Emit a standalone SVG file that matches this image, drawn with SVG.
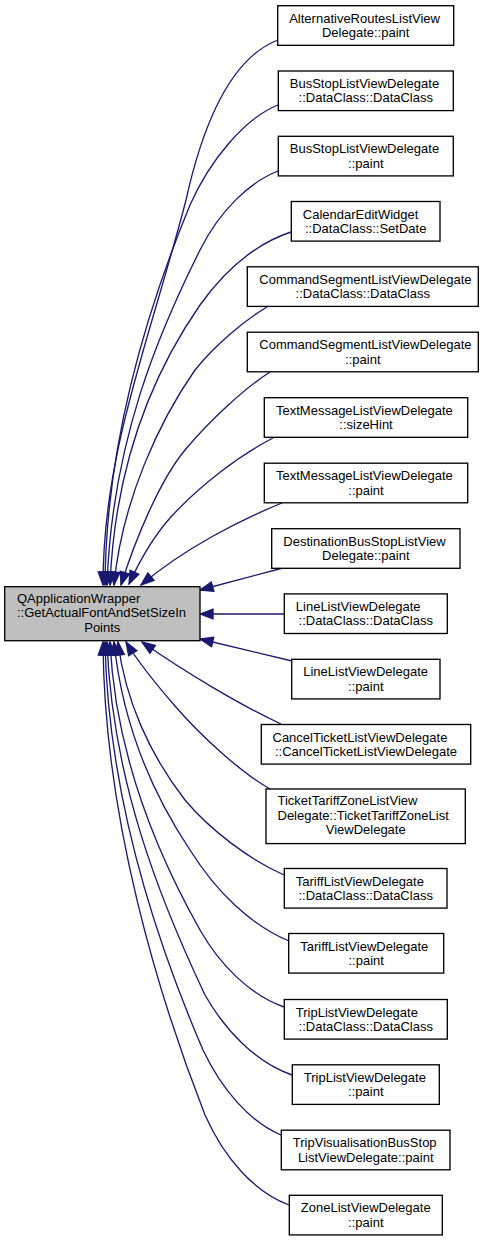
<svg xmlns="http://www.w3.org/2000/svg" width="489" height="1241" viewBox="0 0 489 1241">
<style>
.node rect{fill:#ffffff;stroke:#000000;stroke-width:1.33}
.node.main rect{fill:#bfbfbf}
text{font-family:"Liberation Sans",Arial,Helvetica,sans-serif;font-size:13px;fill:#000000}
.m{text-anchor:middle}
.edge path{fill:none;stroke:#191970;stroke-width:1.33}
</style>
<defs>
<marker id="ah" markerUnits="userSpaceOnUse" viewBox="-1 -6 15 12" refX="13" refY="0" markerWidth="15" markerHeight="12" orient="auto">
<path d="M0,-4.8 L13,0 L0,4.8 Z" fill="#191970" stroke="#191970" stroke-width="1.33"/>
</marker>
</defs>
<rect x="0" y="0" width="489" height="1241" fill="#ffffff"/>
<g id="edges" class="edge">
<path marker-end="url(#ah)" d="M278,40 C236,56 206,110 186,200 C150,340 103,450 103,585"/>
<path marker-end="url(#ah)" d="M278,105 C245,118 210,160 190,205 C155,290 106,430 105,585"/>
<path marker-end="url(#ah)" d="M278,171 C250,182 220,210 200,250 C160,330 112,440 107,585"/>
<path marker-end="url(#ah)" d="M291,232 C255,244 225,270 200,305 C155,370 115,460 110,585"/>
<path marker-end="url(#ah)" d="M267,307 C245,320 215,345 195,370 C160,420 122,500 114,585"/>
<path marker-end="url(#ah)" d="M270,372 C245,388 210,420 185,450 C160,480 135,540 121,585"/>
<path marker-end="url(#ah)" d="M273,438 C240,455 200,485 170,518 C155,535 140,560 129,584"/>
<path marker-end="url(#ah)" d="M282,503 C240,520 185,548 141,585"/>
<path marker-end="url(#ah)" d="M283,568 L200,590"/>
<path marker-end="url(#ah)" d="M284,614 L200,614"/>
<path marker-end="url(#ah)" d="M292,661 L200,639"/>
<path marker-end="url(#ah)" d="M281,724 C240,705 185,672 142,642"/>
<path marker-end="url(#ah)" d="M270,789 C240,772 200,735 175,706 C155,683 140,665 126,642"/>
<path marker-end="url(#ah)" d="M284,875 C250,860 210,830 185,800 C150,755 125,700 118,642"/>
<path marker-end="url(#ah)" d="M289,941 C250,925 215,890 190,850 C150,790 122,720 114,642"/>
<path marker-end="url(#ah)" d="M284,1007 C250,995 220,965 200,930 C155,850 115,750 110,642"/>
<path marker-end="url(#ah)" d="M292,1075 C255,1062 225,1030 205,995 C160,900 112,780 107,642"/>
<path marker-end="url(#ah)" d="M281,1135 C250,1122 222,1090 203,1050 C160,950 108,800 105,642"/>
<path marker-end="url(#ah)" d="M289,1205 C255,1192 225,1160 205,1115 C160,1000 104,820 103,642"/>
</g>
<g id="main" class="node main">
<rect x="4.7" y="586.7" width="195.3" height="54"/>
<text x="17" y="602.7">QApplicationWrapper</text>
<text x="17" y="617.3">::GetActualFontAndSetSizeIn</text>
<text class="m" x="102.3" y="631.8">Points</text>
</g>
<g id="n1" class="node">
<rect x="277.7" y="5.7" width="176" height="39.6"/>
<text x="289.2" y="22.7">AlternativeRoutesListView</text>
<text class="m" x="365.7" y="37">Delegate::paint</text>
</g>
<g id="n2" class="node">
<rect x="278.3" y="71" width="175" height="39.6"/>
<text x="289.8" y="88">BusStopListViewDelegate</text>
<text class="m" x="365.8" y="102.3">::DataClass::DataClass</text>
</g>
<g id="n3" class="node">
<rect x="278.3" y="136.3" width="175" height="39.6"/>
<text x="289.8" y="153.3">BusStopListViewDelegate</text>
<text class="m" x="365.8" y="167.6">::paint</text>
</g>
<g id="n4" class="node">
<rect x="291.3" y="201.5" width="148.7" height="39.6"/>
<text x="302.8" y="218.5">CalendarEditWidget</text>
<text class="m" x="365.7" y="232.8">::DataClass::SetDate</text>
</g>
<g id="n5" class="node">
<rect x="247.3" y="266.8" width="231" height="39.6"/>
<text x="259.3" y="283.8">CommandSegmentListViewDelegate</text>
<text class="m" x="362.8" y="298.1">::DataClass::DataClass</text>
</g>
<g id="n6" class="node">
<rect x="247.3" y="332.2" width="231" height="39.6"/>
<text x="259.3" y="349.2">CommandSegmentListViewDelegate</text>
<text class="m" x="362.8" y="363.5">::paint</text>
</g>
<g id="n7" class="node">
<rect x="264.3" y="397.7" width="203.4" height="39.6"/>
<text x="276" y="414.7">TextMessageListViewDelegate</text>
<text class="m" x="366" y="429">::sizeHint</text>
</g>
<g id="n8" class="node">
<rect x="264.3" y="463.2" width="203.4" height="39.6"/>
<text x="276" y="480.2">TextMessageListViewDelegate</text>
<text class="m" x="366" y="494.5">::paint</text>
</g>
<g id="n9" class="node">
<rect x="271.7" y="528.7" width="188.3" height="39.6"/>
<text x="283.3" y="545.7">DestinationBusStopListView</text>
<text class="m" x="365.8" y="560">Delegate::paint</text>
</g>
<g id="n10" class="node">
<rect x="284.3" y="593.9" width="163" height="39.6"/>
<text x="295.8" y="610.9">LineListViewDelegate</text>
<text class="m" x="365.8" y="625.2">::DataClass::DataClass</text>
</g>
<g id="n11" class="node">
<rect x="291.7" y="659.3" width="148.3" height="39.6"/>
<text x="303.2" y="676.3">LineListViewDelegate</text>
<text class="m" x="365.8" y="690.6">::paint</text>
</g>
<g id="n12" class="node">
<rect x="261.3" y="724.5" width="209.4" height="39.6"/>
<text x="272.5" y="741.5">CancelTicketListViewDelegate</text>
<text class="m" x="366" y="755.8">::CancelTicketListViewDelegate</text>
</g>
<g id="n13" class="node">
<rect x="266" y="789" width="199.3" height="54.6"/>
<text x="277.5" y="805">TicketTariffZoneListView</text>
<text x="277.5" y="819.7">Delegate::TicketTariffZoneList</text>
<text class="m" x="365.7" y="834.3">ViewDelegate</text>
</g>
<g id="n14" class="node">
<rect x="284.3" y="868.5" width="162.7" height="39.6"/>
<text x="295.8" y="885.5">TariffListViewDelegate</text>
<text class="m" x="365.7" y="899.8">::DataClass::DataClass</text>
</g>
<g id="n15" class="node">
<rect x="288.7" y="933.5" width="155" height="39.6"/>
<text x="300.2" y="950.5">TariffListViewDelegate</text>
<text class="m" x="366.2" y="964.8">::paint</text>
</g>
<g id="n16" class="node">
<rect x="284.3" y="999.5" width="163" height="39.6"/>
<text x="295.8" y="1016.5">TripListViewDelegate</text>
<text class="m" x="365.8" y="1030.8">::DataClass::DataClass</text>
</g>
<g id="n17" class="node">
<rect x="292.3" y="1064.8" width="147" height="39.6"/>
<text x="303.8" y="1081.8">TripListViewDelegate</text>
<text class="m" x="365.8" y="1096.1">::paint</text>
</g>
<g id="n18" class="node">
<rect x="281.3" y="1130.2" width="168.7" height="39.6"/>
<text x="292.8" y="1147.2">TripVisualisationBusStop</text>
<text class="m" x="365.7" y="1161.5">ListViewDelegate::paint</text>
</g>
<g id="n19" class="node">
<rect x="289.3" y="1195.3" width="153" height="39.6"/>
<text x="300.8" y="1212.3">ZoneListViewDelegate</text>
<text class="m" x="365.8" y="1226.6">::paint</text>
</g>
</svg>
